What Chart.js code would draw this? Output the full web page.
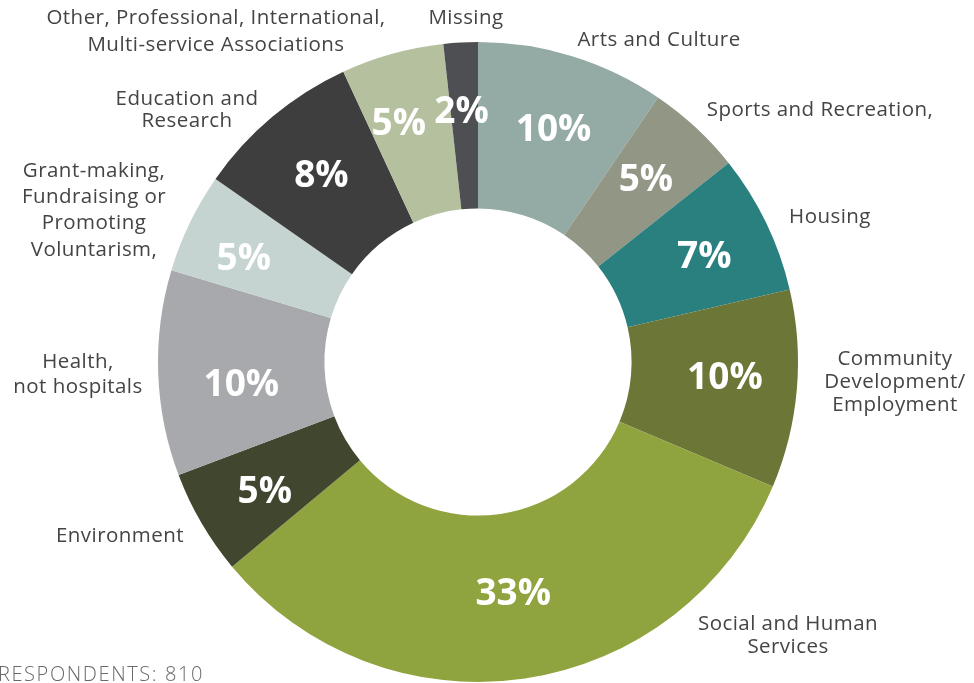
<!DOCTYPE html>
<html>
<head>
<meta charset="utf-8">
<script src="https://cdn.jsdelivr.net/npm/chart.js@4"></script>
<style>
  html, body { margin: 0; padding: 0; background: #fff; }
  #wrap { width: 974px; height: 683px; position: relative; }
</style>
</head>
<body>
<div id="wrap"><canvas id="chart"></canvas></div>
<script>
// respondents per sector (total 810), clockwise from 12 o'clock
const categories = [
  "Arts and Culture",
  "Sports and Recreation,",
  "Housing",
  "Community Development/ Employment",
  "Social and Human Services",
  "Environment",
  "Health, not hospitals",
  "Grant-making, Fundraising or Promoting Voluntarism,",
  "Education and Research",
  "Other, Professional, International, Multi-service Associations",
  "Missing",
];
const counts = [77, 39, 57, 81, 264, 43, 84, 41, 68, 42, 14];
const respondents = 810;

const colors = [
  "#94aaa4", // arts
  "#929684", // sports
  "#2a7f7f", // housing
  "#6c7636", // community
  "#8fa43e", // social
  "#41462f", // environment
  "#a8a9ac", // health
  "#c5d4d0", // grant-making
  "#3e3e3e", // education
  "#b5c19e", // other
  "#4e4f52", // missing
];

// small hand nudges for the % labels (px), like the original layout
const pctNudge = [
  [3, 2], [0, -3], [4, 0], [1, -7], [-1, -14], [0, 4],
  [10, 12], [-12, 2], [2, 1], [-13, -2], [-3, -6],
];

// outside label layout: wrapped lines + anchor (canvas px)
const outsideLabels = [
  { lines: ["Arts and Culture"], x: 659, y: 40, lh: 23 },
  { lines: ["Sports and Recreation,"], x: 820, y: 110, lh: 23 },
  { lines: ["Housing"], x: 830, y: 217, lh: 23 },
  { lines: ["Community", "Development/", "Employment"], x: 895, y: 359, lh: 23 },
  { lines: ["Social and Human", "Services"], x: 788, y: 624, lh: 23 },
  { lines: ["Environment"], x: 120, y: 536, lh: 23 },
  { lines: ["Health,", "not hospitals"], x: 78, y: 362, lh: 25 },
  { lines: ["Grant-making,", "Fundraising or", "Promoting", "Voluntarism,"], x: 94, y: 171, lh: 26.3 },
  { lines: ["Education and", "Research"], x: 187, y: 99, lh: 22 },
  { lines: ["Other, Professional, International,", "Multi-service Associations"], x: 216, y: 18, lh: 27 },
  { lines: ["Missing"], x: 466, y: 18, lh: 23 },
];

const FONT = "'Open Sans', 'Lato', sans-serif";

const labelPlugin = {
  id: "sliceLabels",
  afterDatasetsDraw(chart) {
    const ctx = chart.ctx;
    const meta = chart.getDatasetMeta(0);
    ctx.save();
    ctx.textAlign = "center";

    // percentages inside the ring
    const pctSize = 37;
    ctx.fillStyle = "#ffffff";
    ctx.font = "bold " + pctSize + "px " + FONT;
    ctx.textBaseline = "alphabetic";
    meta.data.forEach((arc, i) => {
      const p = arc.getProps(["x", "y", "startAngle", "endAngle", "innerRadius", "outerRadius"], true);
      const mid = (p.startAngle + p.endAngle) / 2;
      const r = p.innerRadius + (p.outerRadius - p.innerRadius) * 0.56;
      const pct = Math.round((counts[i] / respondents) * 100) + "%";
      const cx = p.x + Math.cos(mid) * r + pctNudge[i][0];
      const cy = p.y + Math.sin(mid) * r + pctNudge[i][1];
      ctx.fillText(pct, cx, cy + pctSize * 0.357);
    });

    // category names outside
    ctx.textBaseline = "middle";
    ctx.fillStyle = "#444444";
    ctx.font = "20.5px " + FONT;
    ctx.letterSpacing = "0.45px";
    outsideLabels.forEach((lab) => {
      lab.lines.forEach((line, j) => {
        ctx.fillText(line, lab.x, lab.y + j * lab.lh);
      });
    });

    // footnote
    ctx.fillStyle = "#6a6a6a";
    ctx.font = "300 20px " + FONT;
    ctx.letterSpacing = "1.6px";
    ctx.textAlign = "right";
    ctx.fillText("RESPONDENTS: " + respondents, 204, 675);
    ctx.restore();
  },
};

new Chart(document.getElementById("chart"), {
  type: "doughnut",
  data: {
    labels: categories,
    datasets: [
      {
        data: counts,
        backgroundColor: colors,
        borderWidth: 0,
      },
    ],
  },
  options: {
    responsive: true,
    maintainAspectRatio: false,
    animation: false,
    cutout: "48%",
    layout: { padding: { top: 42, bottom: 1, left: 158, right: 176 } },
    plugins: {
      legend: { display: false },
      tooltip: { enabled: false },
    },
  },
  plugins: [labelPlugin],
});
</script>
</body>
</html>
